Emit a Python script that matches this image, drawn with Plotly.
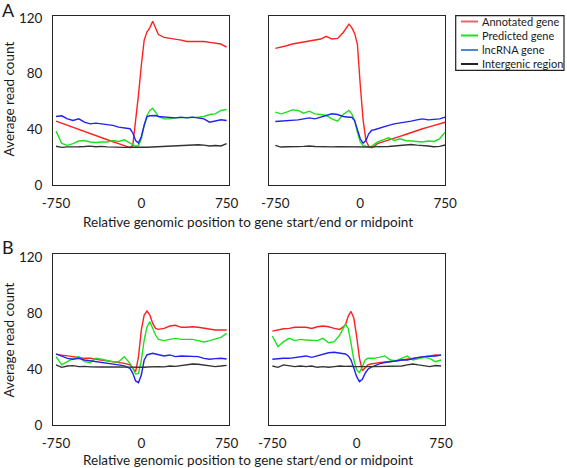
import plotly.graph_objects as go

# ---------------- data ----------------
X = [-750, -700, -650, -600, -550, -500, -450, -400, -350, -300, -250, -200, -150, -100,
     -75, -50, -25, 0, 25, 50, 75, 100, 125,
     150, 200, 250, 300, 350, 400, 450, 500, 550, 600, 650, 700, 750]

SERIES = ["Annotated gene", "Predicted gene", "lncRNA gene", "Intergenic region"]
COLORS = ["#ff2020", "#1ee01e", "#2222f0", "#333333"]
LEGEND_COLORS = ["#f06070", "#1ee01e", "#4a88d8", "#222222"]

a_start_annot = [46, 44.5, 42.9, 41.2, 39.8, 38.3, 36.9, 35.5, 34, 32.6, 31.2, 29.8, 28.6, 27,
                 28.6, 45, 65, 86, 104, 110, 113, 117.5, 113,
                 108, 106, 105.5, 104.8, 104, 103, 103, 103, 103, 102.4, 101.9, 101.2, 99]
a_start_pred = [38.8, 30, 28.6, 29.8, 31.7, 32.1, 31, 30.7, 31, 31, 32.1, 31.4, 32.6, 30.2,
                29.3, 27.9, 28.6, 33.3, 42.9, 50, 53.6, 55.2, 52.4,
                49.3, 47.6, 47.6, 48.3, 48.3, 48.3, 48.8, 48.8, 49.3, 50.7, 51.2, 53.6, 54.3]
a_start_lnc = [49.3, 49.8, 47.6, 46.4, 47.6, 45.2, 44, 44.5, 44, 43.6, 42.9, 41.7, 41.2, 40.5,
               37.5, 32, 30.2, 35, 43, 49.3, 49.8, 50, 50,
               49.3, 48.8, 48.8, 48.3, 48.8, 48.3, 48.8, 48.3, 47.6, 45.2, 46, 46.9, 46.4]
a_start_inter = [28, 27.2, 27.5, 27.8, 27.6, 27.8, 28.1, 27.6, 27.9, 27.5, 27.3, 27.6, 27.2, 27.3,
                 27.2, 27.3, 27.2, 27.2, 27.3, 27.3, 27.4, 27.5, 27.5,
                 27.6, 27.6, 27.8, 27.9, 28.1, 28.3, 29, 29, 28.8, 28.2, 28.5, 28.2, 29.8]

a_end_annot = [98.1, 98.8, 100, 101.2, 101.9, 102.4, 102.9, 103.6, 104.8, 106.7, 104.8, 105.2, 109.5, 115.5,
               113, 109, 101, 72, 47, 32, 27.9, 26.9, 27.9,
               29.8, 31, 32.1, 33.3, 35, 36.4, 37.9, 39.3, 40.5, 41.7, 42.9, 44, 45.2]
a_end_pred = [52.4, 51.2, 52.4, 54, 53.6, 51.7, 53.1, 51.2, 50.7, 50, 47.6, 46, 50.7, 53.6,
              51.2, 46.4, 38.1, 31, 28.6, 27.9, 27.4, 27.9, 29.8,
              31, 32.6, 34, 32.1, 33.3, 32.1, 31.7, 31, 31, 31.7, 31.4, 33.3, 38.1]
a_end_lnc = [45.7, 46, 46, 46.4, 46.9, 47.6, 48.3, 47.6, 48.8, 50, 51.2, 50.7, 49.3, 48.8,
             48.8, 46.4, 39.3, 33.3, 30.2, 32.1, 36.9, 39.3, 39.8,
             40.5, 41.7, 42.9, 44, 44.5, 45.2, 46, 46.9, 47.6, 46.9, 47.4, 47.6, 48.8]
a_end_inter = [28.6, 27.4, 27.6, 27.9, 27.7, 27.9, 28.2, 27.8, 27.6, 27.8, 27.5, 27.7, 27.6, 27.4,
               27.3, 27.3, 27.2, 27.2, 27.2, 27.3, 27.4, 27.5, 27.5,
               27.6, 27.9, 27.8, 28.2, 28.5, 28.8, 29.2, 28.8, 28.6, 28.2, 27.6, 27.9, 28.9]

b_start_annot = [50.5, 50.1, 49.4, 48.9, 48.4, 47.7, 47.7, 47, 46.5, 46, 45.3, 44.6, 44.1, 43,
                 40.6, 38.2, 48.9, 67.9, 78.5, 81.4, 78.5, 72.6, 69,
                 68.3, 69, 70.7, 71.2, 69.8, 69.8, 70.2, 69.8, 69, 68.3, 67.9, 67.9, 67.9]
b_start_pred = [48.9, 43, 45.3, 47.7, 48.9, 45.3, 44.6, 47.7, 47, 46, 45.3, 45.3, 48.9, 44.1,
                39.9, 36.5, 37, 46.5, 60.7, 70.2, 73.8, 69, 64.3,
                61.2, 60.3, 61.2, 61.9, 61.2, 61.2, 61.2, 60.3, 59.3, 60.3, 61.2, 62.6, 65.5]
b_start_lnc = [50.8, 49.4, 47.7, 47, 47.7, 46.5, 46, 45.3, 44.6, 44.1, 43.7, 43, 42.3, 40.6,
               37, 31.6, 30.4, 35.8, 46.5, 50.1, 50.8, 51.3, 50.8,
               50.3, 49.4, 50.1, 48.9, 49.4, 49.4, 49.4, 48.9, 47.7, 47, 47.5, 47.7, 47.2]
b_start_inter = [43, 41.3, 42.2, 42.5, 41.8, 42, 41.6, 41.8, 41.5, 41.6, 41.3, 41.5, 41.4, 41.3,
                 41.2, 41.3, 41.3, 41.2, 41.3, 41.5, 41.6, 41.8, 41.7,
                 41.8, 41.6, 42.2, 42, 42.5, 43.3, 43.7, 43.5, 43, 42.3, 41.8, 42.2, 42.7]

b_end_annot = [67.1, 67.9, 68.8, 69, 69.8, 69.8, 69.8, 69, 70.2, 70.7, 70.2, 69, 68.3, 71.4,
               77.8, 81.1, 76.2, 63.1, 47.7, 38.9, 41.3, 43, 43.7,
               44.1, 44.6, 45.1, 45.3, 45.8, 46.5, 47, 47.7, 48.4, 48.9, 49.4, 50.1, 49.8]
b_end_pred = [63.6, 56, 59.6, 61.9, 60.3, 61.2, 60.7, 60.7, 60.3, 61.9, 58.8, 59.6, 64.3, 72.1,
              69, 58.4, 46.5, 39.4, 37.5, 41.8, 46.5, 47.7, 47.7,
              47.7, 48.4, 49.4, 46.5, 46, 47.7, 49.4, 46.5, 47.7, 48.4, 47.7, 45.3, 46.5]
b_end_lnc = [47, 47.5, 47.7, 47.7, 48.2, 48.4, 49.4, 48.4, 49.4, 50.5, 51.7, 52, 51.3, 50.8,
             49.4, 46.5, 40.6, 34.6, 31.1, 32.7, 37, 39.9, 41.3,
             42.2, 43.7, 44.6, 45.3, 46, 46.5, 46.5, 47.7, 48.4, 48.9, 48.9, 49.4, 50.1]
b_end_inter = [42.2, 41.3, 43, 42.2, 41.8, 42.2, 41.8, 42.2, 41.3, 41.8, 41.3, 41.8, 42.2, 42,
               42.2, 42.1, 41.9, 41.8, 41.8, 41.8, 41.8, 41.8, 41.8,
               41.8, 41.8, 41.8, 41.8, 41.8, 42.2, 43, 43.7, 43, 42.2, 41.8, 42.6, 42.2]

X_TICKS = [-750, 0, 750]
X_TICKTEXT = ["-750", "0", "750"]
Y_TICKS = [0, 40, 80, 120]
Y_TITLE = "Average read count"
X_TITLE = "Relative genomic position to gene start/end or midpoint"

PANELS = [
    ("", [a_start_annot, a_start_pred, a_start_lnc, a_start_inter]),
    ("2", [a_end_annot, a_end_pred, a_end_lnc, a_end_inter]),
    ("3", [b_start_annot, b_start_pred, b_start_lnc, b_start_inter]),
    ("4", [b_end_annot, b_end_pred, b_end_lnc, b_end_inter]),
]

W, H = 567, 468
FONT = "Lato, 'Liberation Sans', Arial, sans-serif"
TXT = "#1a1a1a"

fig = go.Figure()
for suf, data in PANELS:
    for name, col, ys in zip(SERIES, COLORS, data):
        fig.add_trace(go.Scatter(x=X, y=ys, mode="lines", name=name,
                                 line=dict(color=col, width=1.4),
                                 xaxis="x" + suf, yaxis="y" + suf,
                                 showlegend=False, hoverinfo="skip"))

def px_x(p):
    return p / W

def px_y(p):
    return 1 - p / H

dom_left = [px_x(53.3), px_x(228.7)]
dom_right = [px_x(269.3), px_x(445.3)]
dom_top = [px_y(185.3), px_y(15.7)]
dom_bot = [px_y(425.3), px_y(254)]

axis_common = dict(showline=True, mirror=True, linecolor="#262626", linewidth=1.3,
                   showgrid=False, zeroline=False, ticks="",
                   tickfont=dict(family=FONT, size=13.5, color=TXT))

def xax(domain, rng, anchor):
    return dict(axis_common, domain=domain, range=rng, anchor=anchor,
                tickvals=X_TICKS, ticktext=X_TICKTEXT, ticklabelstandoff=5)

def yax(domain, rng, anchor, labels):
    return dict(axis_common, domain=domain, range=rng, anchor=anchor,
                tickvals=Y_TICKS, showticklabels=labels, ticklabelstandoff=7)

fig.update_layout(
    width=W, height=H,
    margin=dict(l=0, r=0, t=0, b=0, autoexpand=False),
    paper_bgcolor="white", plot_bgcolor="white",
    showlegend=False,
    xaxis=xax(dom_left, [-774, 768], "y"),
    yaxis=yax(dom_top, [0, 121.5], "x", True),
    xaxis2=xax(dom_right, [-803, 751], "y2"),
    yaxis2=yax(dom_top, [0, 121.5], "x2", False),
    xaxis3=xax(dom_left, [-774, 768], "y3"),
    yaxis3=yax(dom_bot, [0, 122], "x3", True),
    xaxis4=xax(dom_right, [-777, 788], "y4"),
    yaxis4=yax(dom_bot, [0, 122], "x4", False),
)

ann = []
ann.append(dict(text="A", x=px_x(1), y=px_y(10), xanchor="left", yanchor="middle"))
ann.append(dict(text="B", x=px_x(1), y=px_y(246.5), xanchor="left", yanchor="middle"))
for a in ann:
    a.update(xref="paper", yref="paper", showarrow=False, borderpad=0,
             font=dict(family=FONT, size=18, color=TXT))
for yc in (99, 340):
    ann.append(dict(text=Y_TITLE, x=px_x(8.5), y=px_y(yc), xref="paper", yref="paper",
                    textangle=-90, showarrow=False, xanchor="center", yanchor="middle",
                    font=dict(family=FONT, size=13.5, color=TXT)))
for yc in (222, 460):
    ann.append(dict(text=X_TITLE, x=px_x(247.5), y=px_y(yc), xref="paper", yref="paper",
                    showarrow=False, xanchor="center", yanchor="middle",
                    font=dict(family=FONT, size=13.5, color=TXT)))

shapes = [dict(type="rect", xref="paper", yref="paper",
               x0=px_x(455.7), x1=px_x(564), y0=px_y(70.3), y1=px_y(15.7),
               line=dict(color="#222222", width=1.2), fillcolor="white")]
rows = [21.5, 35.5, 50, 64]
for name, col, ry in zip(SERIES, LEGEND_COLORS, rows):
    shapes.append(dict(type="line", xref="paper", yref="paper",
                       x0=px_x(461), x1=px_x(478), y0=px_y(ry), y1=px_y(ry),
                       line=dict(color=col, width=2)))
    ann.append(dict(text=name, x=px_x(480.5), y=px_y(ry), xref="paper", yref="paper",
                    showarrow=False, xanchor="left", yanchor="middle", borderpad=0,
                    font=dict(family=FONT, size=11, color=TXT)))

fig.update_layout(annotations=ann, shapes=shapes)
fig.write_html("out.html", config={"displayModeBar": False},
               post_script="document.body.style.margin='0';document.body.style.overflow='hidden';")
